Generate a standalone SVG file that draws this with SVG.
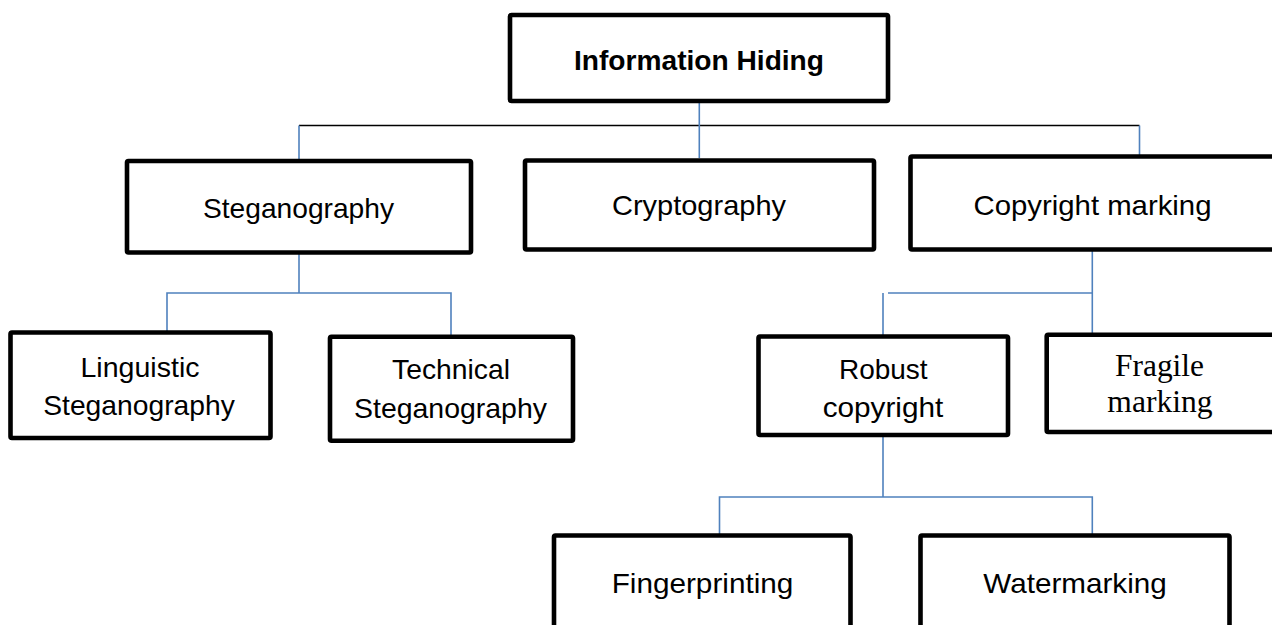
<svg xmlns="http://www.w3.org/2000/svg" width="1272" height="625" viewBox="0 0 1272 625">
  <style>
    .box { fill: #ffffff; stroke: #000000; stroke-width: 4.6; stroke-linejoin: round; }
    .lbl { font-family: "Liberation Sans", Arial, sans-serif; font-size: 28.5px; fill: #000000; text-anchor: middle; }
    .bold { font-weight: bold; }
    .serif { font-family: "Liberation Serif", "Times New Roman", serif; font-size: 31.5px; }
    .link { fill: none; stroke: #4f81bd; stroke-width: 1.6; }
    .bar { fill: none; stroke: #000000; stroke-width: 1.6; }
  </style>
  <rect width="1272" height="625" fill="#ffffff"/>

  <!-- connectors -->
  <g id="connectors">
    <path class="bar" d="M299 125.5 H1139.5"/>
    <path class="link" d="M699.3 101 V158"/>
    <path class="link" d="M299 125.5 V159"/>
    <path class="link" d="M1139.5 125.5 V155"/>
    <!-- Steganography branch -->
    <path class="link" d="M299 252 V293"/>
    <path class="link" d="M167 331 V293 H451 V335"/>
    <!-- Copyright marking branch -->
    <path class="link" d="M1092.3 250 V335"/>
    <path class="link" d="M888 293 H1092.3"/>
    <path class="link" d="M883 293 V335"/>
    <!-- Robust copyright branch -->
    <path class="link" d="M883 435 V497"/>
    <path class="link" d="M719.5 534 V497 H1092.3 V534"/>
  </g>

  <g id="information-hiding">
    <rect class="box" x="510" y="15" width="378" height="86" rx="1.5"/>
    <text class="lbl bold" x="699" y="69.5" textLength="250" lengthAdjust="spacingAndGlyphs">Information Hiding</text>
  </g>

  <g id="steganography">
    <rect class="box" x="127" y="161" width="344" height="91.5" rx="1.5"/>
    <text class="lbl" x="298.5" y="218" textLength="191" lengthAdjust="spacingAndGlyphs">Steganography</text>
  </g>

  <g id="cryptography">
    <rect class="box" x="525" y="160.5" width="349" height="89" rx="1.5"/>
    <text class="lbl" x="699" y="215" textLength="174" lengthAdjust="spacingAndGlyphs">Cryptography</text>
  </g>

  <g id="copyright-marking">
    <rect class="box" x="910.5" y="156.5" width="420" height="93" rx="1.5"/>
    <text class="lbl" x="1092.5" y="215" textLength="238" lengthAdjust="spacingAndGlyphs">Copyright marking</text>
  </g>

  <g id="linguistic-steganography">
    <rect class="box" x="10.5" y="332.5" width="260" height="105.5" rx="1.5"/>
    <text class="lbl" x="140" y="376.7" textLength="119" lengthAdjust="spacingAndGlyphs">Linguistic</text>
    <text class="lbl" x="139" y="415" textLength="191.5" lengthAdjust="spacingAndGlyphs">Steganography</text>
  </g>

  <g id="technical-steganography">
    <rect class="box" x="330" y="336.7" width="243" height="104" rx="1.5"/>
    <text class="lbl" x="451" y="379" textLength="118" lengthAdjust="spacingAndGlyphs">Technical</text>
    <text class="lbl" x="450.5" y="418" textLength="193" lengthAdjust="spacingAndGlyphs">Steganography</text>
  </g>

  <g id="robust-copyright">
    <rect class="box" x="758.5" y="336.5" width="249.5" height="98.5" rx="1.5"/>
    <text class="lbl" x="883.3" y="379" textLength="88.7" lengthAdjust="spacingAndGlyphs">Robust</text>
    <text class="lbl" x="883" y="417" textLength="120.7" lengthAdjust="spacingAndGlyphs">copyright</text>
  </g>

  <g id="fragile-marking">
    <rect class="box" x="1046.7" y="334.8" width="300" height="97.2" rx="1.5"/>
    <text class="lbl serif" x="1159.5" y="376" textLength="89" lengthAdjust="spacingAndGlyphs">Fragile</text>
    <text class="lbl serif" x="1160" y="411.5" textLength="105.3" lengthAdjust="spacingAndGlyphs">marking</text>
  </g>

  <g id="fingerprinting">
    <rect class="box" x="554" y="535.5" width="296.5" height="120" rx="1.5"/>
    <text class="lbl" x="702.5" y="593.3" textLength="181.7" lengthAdjust="spacingAndGlyphs">Fingerprinting</text>
  </g>

  <g id="watermarking">
    <rect class="box" x="920.5" y="535.5" width="309" height="120" rx="1.5"/>
    <text class="lbl" x="1075" y="593" textLength="183.4" lengthAdjust="spacingAndGlyphs">Watermarking</text>
  </g>
</svg>
